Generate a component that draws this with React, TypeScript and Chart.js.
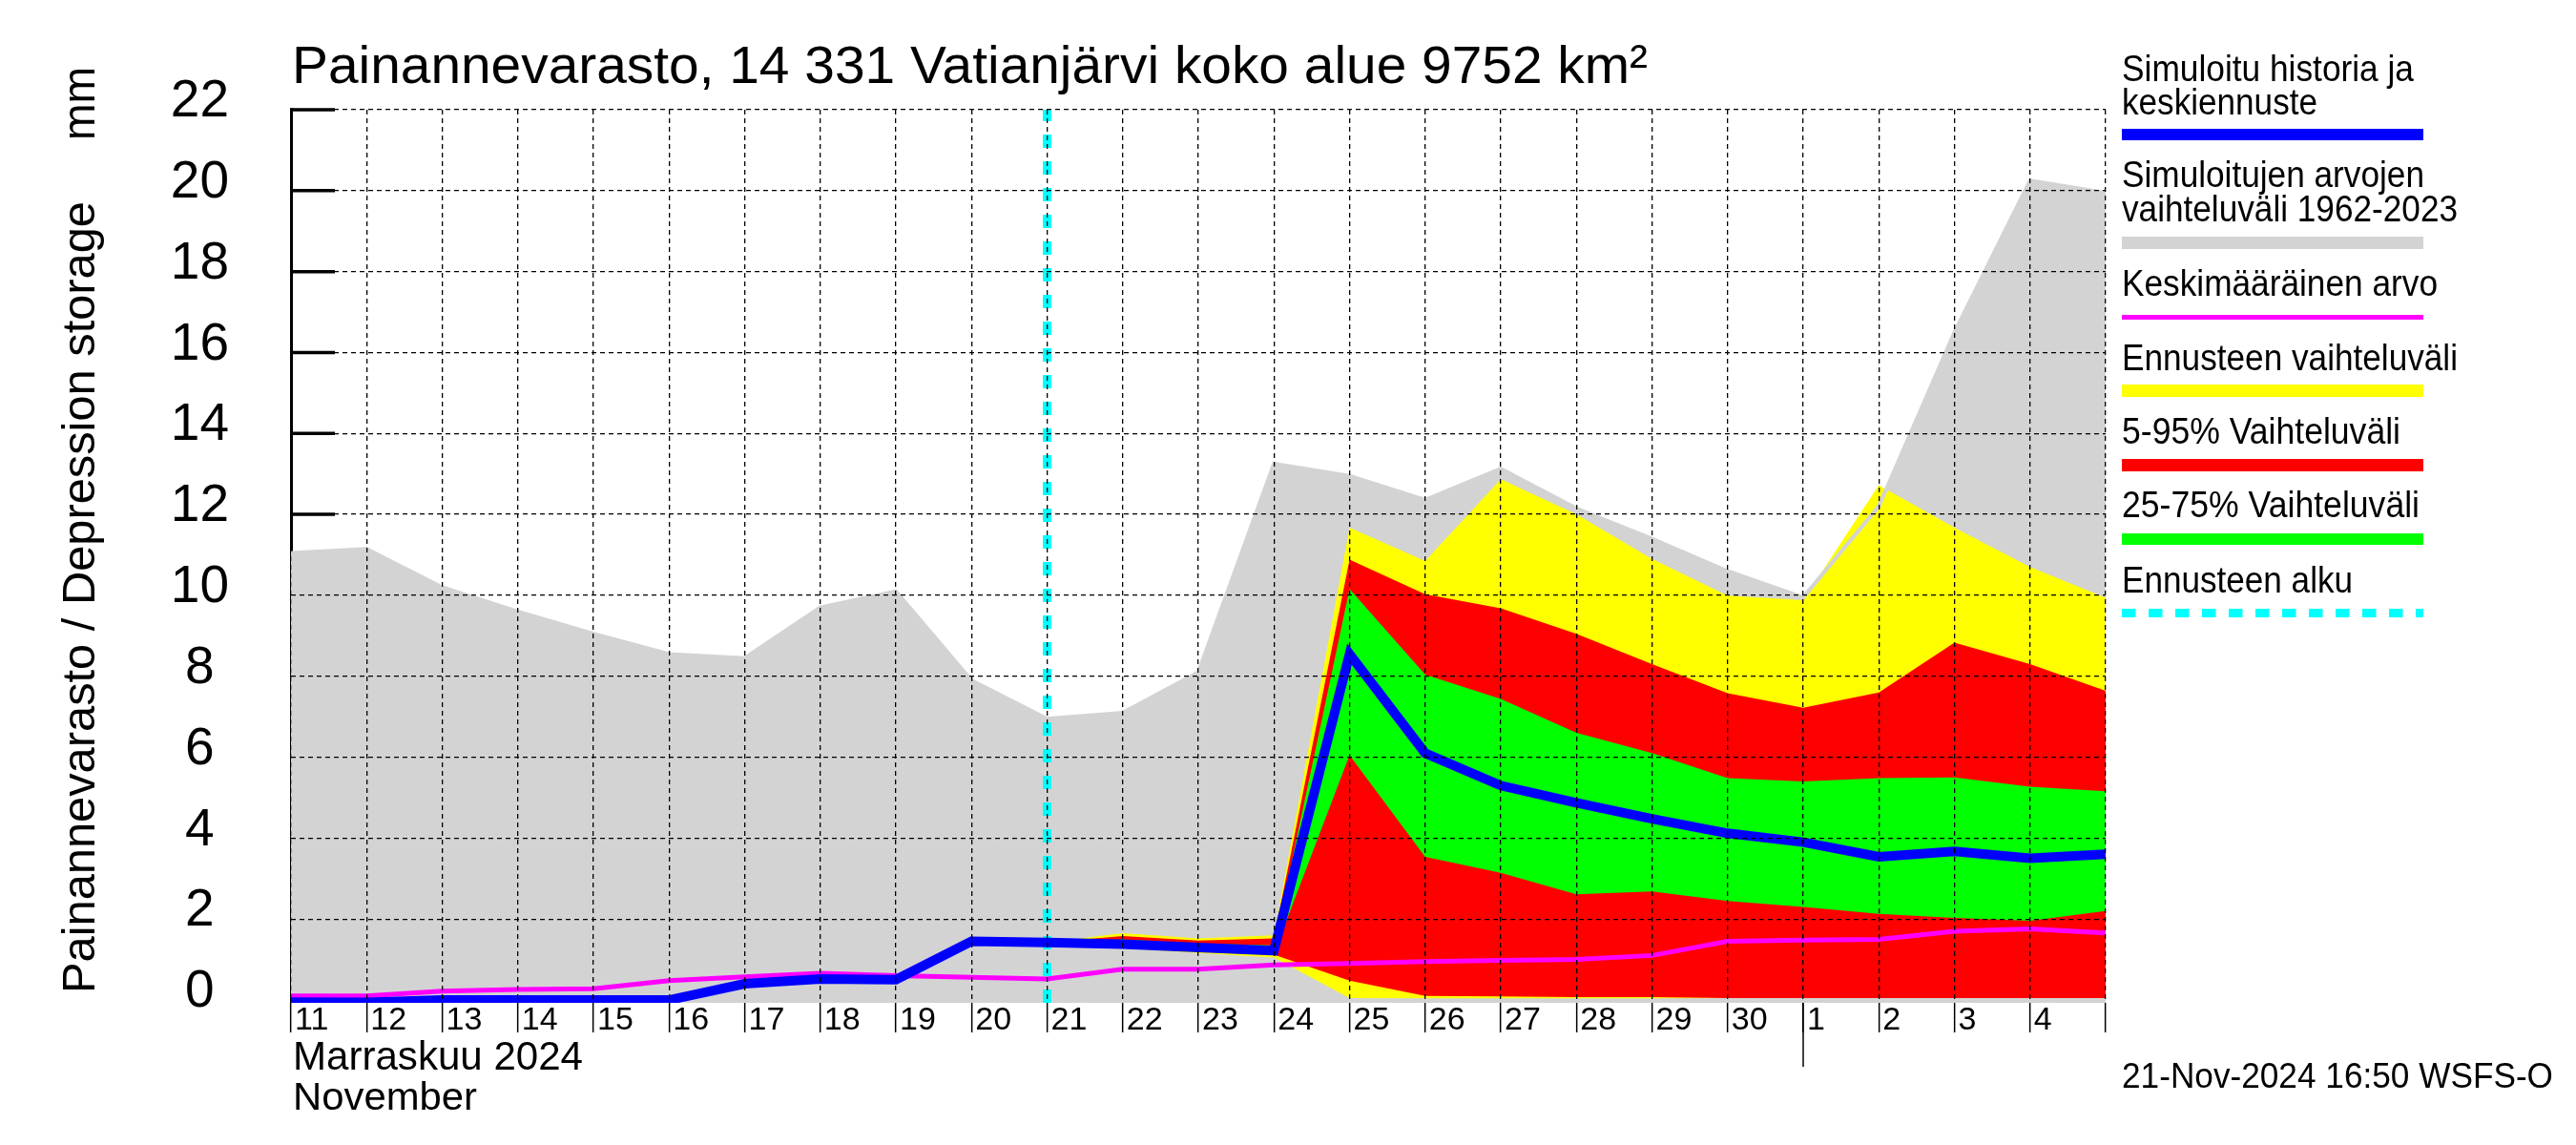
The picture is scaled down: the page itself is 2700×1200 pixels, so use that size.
import React, { useEffect, useRef } from "react";
import { Chart, registerables } from "chart.js";
Chart.register(...registerables);

const W = 2700;
const H = 1200;

// Days Nov 11 .. Dec 5 (index 0..24)
const dayLabels = ["11","12","13","14","15","16","17","18","19","20","21","22","23","24","25","26","27","28","29","30","1","2","3","4",""];
const simulated = [-0.05,-0.06,0.0,0.0,0.0,0.0,0.4,0.52,0.5,1.45,1.42,1.38,1.3,1.22,8.55,6.1,5.3,4.87,4.48,4.12,3.9,3.54,3.67,3.5,3.6];
const meanValues = [0.1,0.1,0.22,0.26,0.28,0.48,0.57,0.66,0.6,0.56,0.52,0.76,0.76,0.87,0.9,0.95,0.98,1.0,1.1,1.45,1.48,1.5,1.7,1.76,1.66];
const histMax = [11.05,11.15,10.2,9.6,9.05,8.55,8.45,9.7,10.1,7.9,6.95,7.1,8.1,13.25,12.95,12.36,13.13,12.15,11.4,10.6,9.95,12.2,16.5,20.25,19.95];

// Forecast days (index 10..24 = Nov 21 .. Dec 5)
const forecastDays = [10,11,12,13,14,15,16,17,18,19,20,21,22,23,24];
const fcMax = [1.42,1.65,1.52,1.6,11.67,10.85,12.87,12.0,10.9,9.99,9.88,12.72,11.67,10.7,9.94];
const fcP95 = [1.42,1.58,1.47,1.52,10.88,10.03,9.68,9.05,8.3,7.58,7.22,7.6,8.83,8.3,7.64];
const fcP75 = [1.42,1.5,1.4,1.35,10.16,8.04,7.44,6.6,6.1,5.48,5.4,5.48,5.5,5.27,5.16];
const fcP25 = [1.42,1.35,1.25,1.15,6.05,3.54,3.14,2.61,2.68,2.45,2.3,2.13,2.03,1.96,2.2];
const fcP5 = [1.42,1.3,1.2,1.12,0.48,0.1,0.09,0.07,0.07,0.05,0.05,0.05,0.05,0.05,0.05];
const fcMin = [1.42,1.28,1.16,1.05,0.05,0.04,0.04,0.04,0.04,0.05,0.05,0.05,0.05,0.05,0.05];

const forecastStart = 10;
const yTicks = [0,2,4,6,8,10,12,14,16,18,20,22];
const yMin = -0.07;
const yMax = 22;
const monthIndex = 20; // Dec 1

const titleText = "Painannevarasto, 14 331 Vatianjärvi koko alue 9752 km²";
const yTitle = "Painannevarasto / Depression storage";
const yUnit = "mm";
const monthFi = "Marraskuu 2024";
const monthEn = "November";
const stamp = "21-Nov-2024 16:50 WSFS-O";

const BLUE = "#0000ff";
const GRAY = "#d3d3d3";
const MAGENTA = "#ff00ff";
const YELLOW = "#ffff00";
const RED = "#ff0000";
const GREEN = "#00ff00";
const CYAN = "#00ffff";

const legendItems = [
  { lines: ["Simuloitu historia ja", "keskiennuste"], widths: [306, 205], color: BLUE, thick: 12, dash: false },
  { lines: ["Simuloitujen arvojen", "vaihteluväli 1962-2023"], widths: [317, 352], color: GRAY, thick: 13, dash: false },
  { lines: ["Keskimääräinen arvo"], widths: [331], color: MAGENTA, thick: 5, dash: false },
  { lines: ["Ennusteen vaihteluväli"], widths: [352], color: YELLOW, thick: 13, dash: false },
  { lines: ["5-95% Vaihteluväli"], widths: [292], color: RED, thick: 13, dash: false },
  { lines: ["25-75% Vaihteluväli"], widths: [312], color: GREEN, thick: 12, dash: false },
  { lines: ["Ennusteen alku"], widths: [242], color: CYAN, thick: 9, dash: true },
];
const legendBaselines = [[85, 120], [196, 232], [310], [387.5], [465], [542], [620.5]];
const legendBars = [141, 254.5, 332.5, 409.5, 487.5, 565, 642.5];

const FONT = '"Liberation Sans", Arial, sans-serif';

function fitText(ctx: CanvasRenderingContext2D, text: string, x: number, y: number, size: number, width: number, align: CanvasTextAlign = "left") {
  ctx.font = `${size}px ${FONT}`;
  const m = ctx.measureText(text).width;
  const sx = width && m ? width / m : 1;
  ctx.save();
  ctx.translate(x, y);
  ctx.scale(sx, 1);
  ctx.textAlign = align;
  ctx.textBaseline = "alphabetic";
  ctx.fillStyle = "#000";
  ctx.fillText(text, 0, 0);
  ctx.restore();
}

const toPts = (xs: number[], ys: number[]) => ys.map((v, i) => ({ x: xs[i], y: v }));
const allDays = dayLabels.map((_, i) => i);

const decor = {
  id: "decor",
  beforeDatasetsDraw(chart: any) {
    const { ctx, chartArea, scales } = chart;
    const y = scales.y;
    ctx.save();
    ctx.strokeStyle = "#000";
    // left axis line
    ctx.lineWidth = 3;
    ctx.beginPath();
    ctx.moveTo(chartArea.left + 0.5, chartArea.top - 1.5);
    ctx.lineTo(chartArea.left + 0.5, chartArea.bottom);
    ctx.stroke();
    // inward ticks
    ctx.lineWidth = 3.5;
    yTicks.forEach((v) => {
      const py = y.getPixelForValue(v);
      ctx.beginPath();
      ctx.moveTo(chartArea.left - 1, py);
      ctx.lineTo(chartArea.left + 46, py);
      ctx.stroke();
    });
    ctx.restore();
  },
  afterDraw(chart: any) {
    const { ctx, chartArea, scales } = chart;
    const x = scales.x;
    ctx.save();
    // month separator tick
    const px = x.getPixelForValue(monthIndex);
    ctx.strokeStyle = "#000";
    ctx.lineWidth = 1.5;
    ctx.beginPath();
    ctx.moveTo(px, chartArea.bottom);
    ctx.lineTo(px, chartArea.bottom + 67);
    ctx.stroke();

    // title
    fitText(ctx, titleText, 306, 87, 56, 1421);
    // y axis title
    ctx.save();
    ctx.translate(99, 1041);
    ctx.rotate(-Math.PI / 2);
    fitText(ctx, yTitle, 0, 0, 48, 830);
    ctx.restore();
    ctx.save();
    ctx.translate(99, 70);
    ctx.rotate(-Math.PI / 2);
    fitText(ctx, yUnit, 0, 0, 48, 77, "right");
    ctx.restore();
    // month labels
    fitText(ctx, monthFi, 307, 1121, 42, 304);
    fitText(ctx, monthEn, 307, 1163, 40, 193);
    // stamp
    fitText(ctx, stamp, 2224, 1140, 36, 452);

    // legend
    const lx0 = 2224;
    const lx1 = 2540;
    legendItems.forEach((it, i) => {
      it.lines.forEach((t, j) => fitText(ctx, t, lx0, legendBaselines[i][j], 38, it.widths[j]));
      const cy = legendBars[i];
      ctx.save();
      ctx.strokeStyle = it.color;
      ctx.lineWidth = it.thick;
      ctx.lineCap = "butt";
      if (it.dash) ctx.setLineDash([14.5, 13.5]);
      ctx.beginPath();
      ctx.moveTo(lx0, cy);
      ctx.lineTo(lx1, cy);
      ctx.stroke();
      ctx.restore();
    });
    ctx.restore();
  },
};

const band = (data: any[], color: string, fill: any) => ({
  data,
  borderColor: "rgba(0,0,0,0)",
  backgroundColor: color,
  borderWidth: 0,
  pointRadius: 0,
  fill,
  tension: 0,
});

export default function App() {
  const ref = useRef<HTMLCanvasElement>(null);
  useEffect(() => {
    document.body.style.margin = "0";
    const datasets: any[] = [
      { data: toPts(allDays, simulated), borderColor: BLUE, borderWidth: 10, pointRadius: 0, fill: false, borderJoinStyle: "miter" },
      { data: toPts(allDays, meanValues), borderColor: MAGENTA, borderWidth: 5, pointRadius: 0, fill: false },
      { data: [{ x: forecastStart, y: yMin }, { x: forecastStart, y: yMax }], borderColor: CYAN, borderWidth: 9, borderDash: [14, 14], borderCapStyle: "butt", pointRadius: 0, fill: false },
      band(toPts(forecastDays, fcP75), GREEN, "+1"),
      band(toPts(forecastDays, fcP25), "rgba(0,0,0,0)", false),
      band(toPts(forecastDays, fcP95), RED, "+1"),
      band(toPts(forecastDays, fcP5), "rgba(0,0,0,0)", false),
      { data: toPts(allDays, histMax), borderColor: GRAY, borderWidth: 4, pointRadius: 0, fill: false },
      band(toPts(forecastDays, fcMax), YELLOW, "+1"),
      band(toPts(forecastDays, fcMin), "rgba(0,0,0,0)", false),
      band(toPts(allDays, histMax), GRAY, "start"),
    ];
    const chart = new Chart(ref.current!, {
      type: "line",
      data: { datasets },
      plugins: [decor],
      options: {
        responsive: false,
        animation: false,
        devicePixelRatio: 1,
        layout: { padding: { left: 0, right: W - 2207, top: 115, bottom: 0 } },
        plugins: { legend: { display: false }, tooltip: { enabled: false }, title: { display: false } },
        elements: { point: { radius: 0 }, line: { tension: 0 } },
        scales: {
          x: {
            type: "linear",
            min: 0,
            max: dayLabels.length - 1,
            afterBuildTicks: (s: any) => { s.ticks = allDays.map((v) => ({ value: v })); },
            afterFit: (s: any) => { s.height = H - 1051; },
            ticks: {
              autoSkip: false,
              maxRotation: 0,
              minRotation: 0,
              align: "start",
              labelOffset: 4,
              padding: -33,
              color: "#000",
              font: { family: FONT, size: 34 },
              callback: (v: any) => dayLabels[Number(v)] ?? "",
            },
            grid: {
              z: 1,
              color: "#000",
              lineWidth: 1.3,
              drawTicks: true,
              tickLength: 31,
              tickWidth: 1.5,
              tickColor: "#000",
              tickBorderDash: [],
            },
            border: { display: false, dash: [5, 4] },
          },
          y: {
            type: "linear",
            min: yMin,
            max: yMax,
            afterBuildTicks: (s: any) => { s.ticks = yTicks.map((v) => ({ value: v })); },
            afterFit: (s: any) => { s.width = 305; },
            ticks: {
              crossAlign: "center",
              padding: 65,
              labelOffset: -8,
              color: "#000",
              font: { family: FONT, size: 55 },
              callback: (v: any) => String(v),
            },
            grid: {
              z: 1,
              color: (c: any) => (c.tick && c.tick.value === 0 ? "rgba(0,0,0,0)" : "#000"),
              lineWidth: 1.3,
              drawTicks: false,
            },
            border: { display: false, dash: [5, 4] },
          },
        },
      } as any,
    });
    return () => chart.destroy();
  }, []);
  return (
    <div style={{ width: W, height: H, background: "#fff" }}>
      <canvas ref={ref} width={W} height={H} style={{ width: W, height: H, display: "block" }} />
    </div>
  );
}
